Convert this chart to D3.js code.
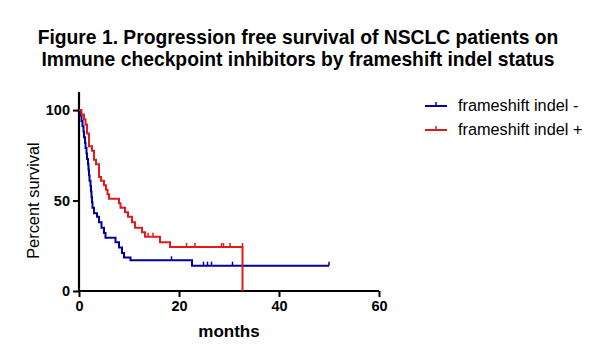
<!DOCTYPE html>
<html>
<head>
<meta charset="utf-8">
<script src="https://cdn.jsdelivr.net/npm/d3@7"></script>
<style>
  body { margin: 0; background: #fff; }
  svg { font-family: "Liberation Sans", Arial, sans-serif; }
</style>
</head>
<body>
<svg id="chart" width="599" height="348"></svg>
<script>
// Kaplan-Meier steps (months, percent surviving)
const negTimes = [0, 0.3, 0.5, 0.7, 0.9, 1.0, 1.2, 1.3, 1.5, 1.6, 1.8, 1.9, 2.0, 2.1, 2.3, 2.4, 2.5, 2.6, 2.7, 3.0, 3.6, 4.0, 4.5, 5.0, 5.3, 7.3, 8.0, 8.6, 9.0, 10.3, 22.6, 50];
const negSurv = [100, 97, 94, 91, 88, 85, 82, 79, 76, 73, 70, 67, 64, 61, 58, 55, 52, 49, 46, 43, 41, 38, 35, 32, 29.5, 27, 24, 21, 18.5, 17, 14, 14];
const negCensor = [[18.5, 17], [24.9, 14], [25.7, 14], [26.5, 14], [30.7, 14], [50, 14]];

const posTimes = [0, 0.5, 1.0, 1.3, 1.6, 2.0, 2.6, 3.0, 3.4, 4.0, 4.4, 5.0, 5.4, 5.7, 6.0, 8.0, 8.3, 9.2, 9.8, 10.6, 11.2, 12.6, 13.2, 16.2, 18.2, 32.7];
const posSurv = [100, 97.5, 95, 92, 87, 80, 77.5, 72.5, 70, 63, 61, 58.5, 56, 53.5, 51, 48.5, 46, 43.5, 41, 38, 35, 32.5, 30, 27, 24.3, 0];
const posCensor = [[13.8, 30], [14.8, 30], [21.5, 24.3], [23.2, 24.3], [28.5, 24.3], [28.9, 24.3], [30.2, 24.3], [32.7, 24.3]];

const seriesNames = ["frameshift indel -", "frameshift indel +"];
const seriesColors = ["#0000a0", "#e01b1b"];
const xTicks = [0, 20, 40, 60];
const yTicks = [0, 50, 100];

const svg = d3.select("#chart");
const margin = { left: 79, top: 92, right: 220, bottom: 57 };
const innerW = 599 - margin.left - margin.right;
const innerH = 348 - margin.top - margin.bottom;

const x = d3.scaleLinear().domain([0, 60]).range([margin.left, margin.left + innerW]);
const y = d3.scaleLinear().domain([0, 110]).range([margin.top + innerH, margin.top]);

// title
const titleLines = [
  "Figure 1. Progression free survival of NSCLC patients on",
  "Immune checkpoint inhibitors by frameshift indel status",
];
titleLines.forEach((t, i) => {
  svg.append("text")
    .attr("x", 298).attr("y", 44 + i * 22)
    .attr("text-anchor", "middle")
    .attr("font-weight", "bold").attr("font-size", 19.3)
    .text(t);
});

// axes
const xAxis = svg.append("g")
  .attr("transform", `translate(0,${y(0)})`)
  .call(d3.axisBottom(x).tickValues(xTicks).tickSize(6).tickPadding(4));
const yAxis = svg.append("g")
  .attr("transform", `translate(${x(0)},0)`)
  .call(d3.axisLeft(y).tickValues(yTicks).tickSize(6).tickPadding(3));

[xAxis, yAxis].forEach((a) => {
  a.select(".domain").attr("stroke", "#000").attr("stroke-width", 2.2);
  a.selectAll(".tick line").attr("stroke", "#000").attr("stroke-width", 2);
  a.selectAll(".tick text")
    .attr("fill", "#000")
    .attr("font-size", 14.5)
    .attr("font-weight", "bold")
    .attr("font-family", "Liberation Sans, Arial, sans-serif");
});
// no outer ticks on the axis lines
xAxis.select(".domain").attr("d", `M${x(0)},0H${x(60)}`);
yAxis.select(".domain").attr("d", `M0,${y(0)}V${y(110)}`);

// axis labels
svg.append("text")
  .attr("x", 229).attr("y", 337)
  .attr("text-anchor", "middle")
  .attr("font-weight", "bold").attr("font-size", 17)
  .text("months");
svg.append("text")
  .attr("transform", `translate(39,${y(50)}) rotate(-90)`)
  .attr("text-anchor", "middle")
  .attr("font-size", 16.4)
  .text("Percent survival");

// curves
const stepLine = d3.line()
  .x((d) => x(d[0]))
  .y((d) => y(d[1]))
  .curve(d3.curveStepAfter);

const series = [
  { pts: negTimes.map((t, i) => [t, negSurv[i]]), cens: negCensor },
  { pts: posTimes.map((t, i) => [t, posSurv[i]]), cens: posCensor },
];

series.forEach((s, i) => {
  const g = svg.append("g");
  g.append("path")
    .attr("d", stepLine(s.pts))
    .attr("fill", "none")
    .attr("stroke", seriesColors[i])
    .attr("stroke-width", 2);
  g.selectAll("line")
    .data(s.cens)
    .enter()
    .append("line")
    .attr("x1", (d) => x(d[0])).attr("x2", (d) => x(d[0]))
    .attr("y1", (d) => y(d[1])).attr("y2", (d) => y(d[1]) - 4)
    .attr("stroke", seriesColors[i])
    .attr("stroke-width", 1.5);
});

// legend
const legend = svg.append("g");
seriesNames.forEach((name, i) => {
  const ly = 106 + i * 24;
  legend.append("line")
    .attr("x1", 425).attr("x2", 447)
    .attr("y1", ly).attr("y2", ly)
    .attr("stroke", seriesColors[i]).attr("stroke-width", 2);
  legend.append("line")
    .attr("x1", 436).attr("x2", 436)
    .attr("y1", ly).attr("y2", ly - 4)
    .attr("stroke", seriesColors[i]).attr("stroke-width", 1.5);
  legend.append("text")
    .attr("x", 458).attr("y", ly + 5)
    .attr("font-size", 16.3)
    .text(name);
});
</script>
</body>
</html>
